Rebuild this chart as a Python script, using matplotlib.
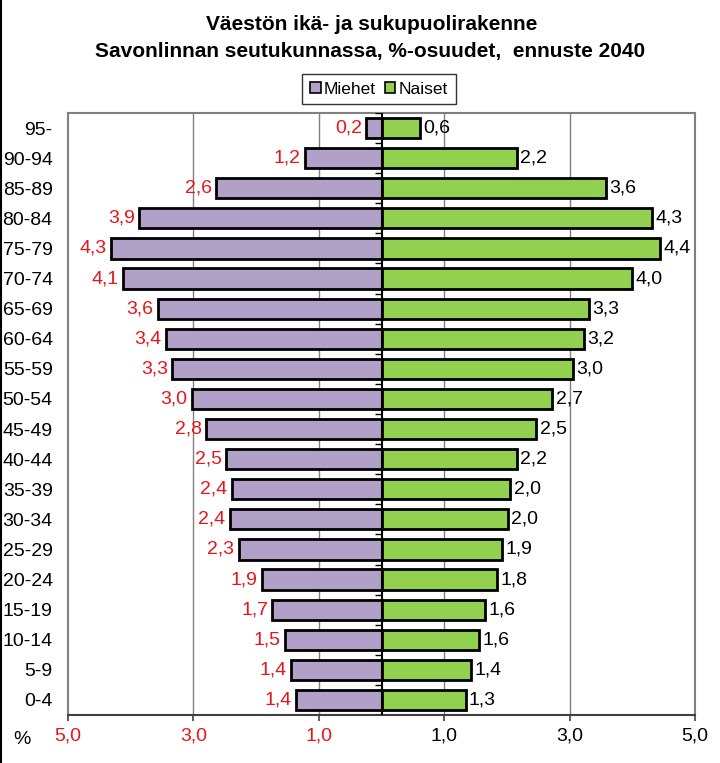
import numpy as np
import matplotlib.pyplot as plt
from matplotlib.lines import Line2D

plt.rcParams['font.family'] = ['Liberation Sans', 'DejaVu Sans']

# Age groups, bottom to top
ages = ['0-4', '5-9', '10-14', '15-19', '20-24', '25-29', '30-34', '35-39',
        '40-44', '45-49', '50-54', '55-59', '60-64', '65-69', '70-74',
        '75-79', '80-84', '85-89', '90-94', '95-']
# share of population, %
miehet = [1.37, 1.44, 1.54, 1.74, 1.91, 2.28, 2.42, 2.39, 2.48, 2.80,
          3.03, 3.34, 3.44, 3.57, 4.13, 4.31, 3.86, 2.64, 1.22, 0.24]
naiset = [1.34, 1.43, 1.56, 1.65, 1.84, 1.92, 2.01, 2.05, 2.16, 2.47,
          2.72, 3.05, 3.23, 3.31, 3.99, 4.44, 4.31, 3.58, 2.16, 0.61]
xticks = [-5, -3, -1, 1, 3, 5]

purple = '#B1A0C7'
green = '#92D050'
red = '#E8141B'

fig = plt.figure(figsize=(7.2, 7.63), dpi=100)
ax = fig.add_axes([68 / 720, 48 / 763, 627 / 720, 602 / 763])

y = np.arange(len(ages))
m = -np.array(miehet)
n = np.array(naiset)

ax.barh(y, m, height=0.67, color=purple, edgecolor='black', linewidth=2,
        label='Miehet', zorder=3)
ax.barh(y, n, height=0.67, color=green, edgecolor='black', linewidth=2,
        label='Naiset', zorder=3)

fmt = lambda v: f'{abs(v):.1f}'.replace('.', ',')
for yi, v in zip(y, m):
    ax.annotate(fmt(v), (v, yi), xytext=(-3, 0), textcoords='offset points',
                ha='right', va='center', color=red, fontsize=14)
for yi, v in zip(y, n):
    ax.annotate(fmt(v), (v, yi), xytext=(2.5, 0), textcoords='offset points',
                ha='left', va='center', color='black', fontsize=14)

# center axis with small ticks at category boundaries
ax.axvline(0, color='black', linewidth=1.5, zorder=4)
bounds = np.arange(len(ages) + 1) - 0.5
ax.hlines(bounds, -0.11, 0, color='black', linewidth=1, zorder=4)

ax.set_xlim(-5, 5)
ax.set_ylim(-0.5, len(ages) - 0.5)
ax.set_yticks(y)
ax.set_yticklabels(ages, fontsize=14)
ax.tick_params(axis='y', length=0, pad=11)
ax.set_xticks(xticks)
ax.set_xticklabels([fmt(v) for v in xticks], fontsize=14)
for lbl, v in zip(ax.get_xticklabels(), xticks):
    if v < 0:
        lbl.set_color(red)
ax.tick_params(axis='x', length=4, width=1.2, pad=5, color='#404040')

for v in xticks[1:-1]:
    ax.axvline(v, color='#808080', linewidth=1, zorder=1)

for s in ['top', 'left', 'right']:
    ax.spines[s].set_color('#808080')
    ax.spines[s].set_linewidth(1.5)
ax.spines['bottom'].set_color('#404040')
ax.spines['bottom'].set_linewidth(1.5)

fig.text(22 / 720, 1 - 740 / 763, '%', fontsize=14, ha='center', va='center')

fig.text(372 / 720, 1 - 24 / 763, 'Väestön ikä- ja sukupuolirakenne',
         fontsize=15, fontweight='bold', ha='center', va='center')
fig.text(370 / 720, 1 - 51 / 763,
         'Savonlinnan seutukunnassa, %-osuudet,  ennuste 2040',
         fontsize=15, fontweight='bold', ha='center', va='center')

leg = fig.legend(loc='center', bbox_to_anchor=(379 / 720, 1 - 89 / 763), ncol=2,
                 fontsize=12.5, frameon=True, fancybox=False, edgecolor='black',
                 handlelength=0.6, handleheight=0.6, handletextpad=0.2,
                 columnspacing=0.5, borderpad=0.45, borderaxespad=0)
leg.get_frame().set_linewidth(1)
for h in leg.legend_handles:
    h.set_linewidth(1.2)

fig.add_artist(Line2D([0.0015, 0.0015], [0, 1], color='black', linewidth=1.5))

fig.savefig('out.png', dpi=100)
